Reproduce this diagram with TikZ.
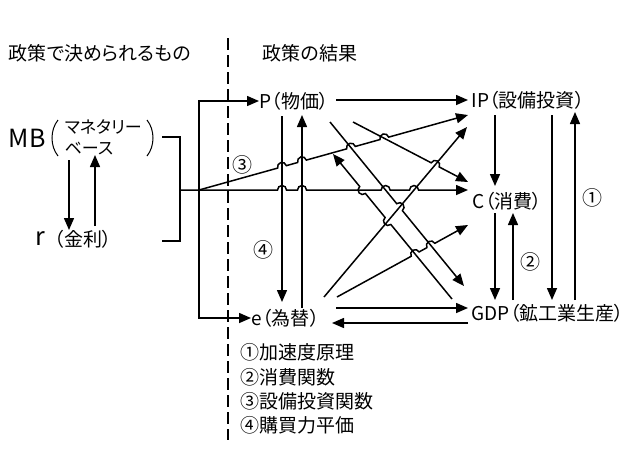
\documentclass[tikz,border=0pt]{standalone}
\usepackage{fontspec}
\setmainfont[RawFeature=+palt]{Noto Sans CJK JP}
\usetikzlibrary{arrows.meta,calc}

\tikzset{
  arr/.style={-{Triangle[length=12pt,width=10pt]}},
  lbl/.style={inner sep=0pt, anchor=west, font=\fontsize{19}{22}\selectfont},
  num/.style={inner sep=0pt, font=\fontsize{20}{20}\selectfont},
}
% 跨线小弧：#1 交点，#2 线段起点
\newcommand{\linehop}[2]{-- ($(#1)!4.5pt!(#2)$) arc[start angle=\n1+180, end angle=\n1, radius=4.5pt]}

\begin{document}
\begin{tikzpicture}[x=1pt, y=-1pt, line width=1.5pt]
    \useasboundingbox (0,0) rectangle (640,467);

    % 分界虚线
    \coordinate (dtop) at (228,38);
    \coordinate (dbot) at (228,440);
    \draw[dash pattern=on 12pt off 5pt] (dtop) -- (dbot);

    % 标题
    \node[lbl] (ttlL) at (8,53) {政策で決められるもの};
    \node[lbl] (ttlR) at (262,53) {政策の結果};

    % 左侧：MB 与 r
    \node[lbl, font=\fontsize{25}{25}\selectfont] (MB) at (8,138) {MB};
    \node[lbl, font=\fontsize{17}{17}\selectfont] (MB1) at (64,127) {マネタリー};
    \node[lbl, font=\fontsize{17}{17}\selectfont] (MB2) at (64,149) {ベース};
    \draw[line width=1pt] (58,120) .. controls (50,130) and (50,146) .. (58,156);
    \draw[line width=1pt] (147,120) .. controls (155,130) and (155,146) .. (147,156);
    \node[lbl, font=\fontsize{25}{25}\selectfont] (R) at (35,239) {r};
    \node[lbl] (Rsub) at (54,239) {（金利）};

    \coordinate (mbA) at (69,160);
    \coordinate (rA) at (69,230);
    \coordinate (rB) at (95,226);
    \coordinate (mbB) at (95,155);
    \draw[arr] (mbA) -- (rA);
    \draw[arr] (rB) -- (mbB);

    % 括号与分支点
    \coordinate (bkT) at (162,137);
    \coordinate (bkB) at (162,241);
    \coordinate (bk) at (180,190);
    \coordinate (jn) at (199,190);
    \draw (bkT) -| (bk) |- (bkB);

    % 政策的结果
    \node[lbl] (P) at (259,101) {P（物価）};
    \node[lbl] (E) at (251,318) {e（為替）};
    \node[lbl] (IP) at (471,100) {IP（設備投資）};
    \node[lbl] (C) at (472,201) {C（消費）};
    \node[lbl] (GDP) at (471,313) {GDP（鉱工業生産）};

    % 分支点到 P 与 e
    \draw[arr] (jn) |- (P.west);
    \draw[arr] (jn) |- (E.west);

    % P 与 e 之间（④）
    \coordinate (v1t) at (282,116);
    \coordinate (v1b) at (282,302);
    \coordinate (v2b) at (302,308);
    \coordinate (v2t) at (302,115);
    \draw[arr] (v1t) -- (v1b);
    \draw[arr] (v2b) -- (v2t);

    % 各斜线的端点
    \coordinate (ip3) at (468,115);  % ③ MB -> IP
    \coordinate (c2) at (468,190);   % MB -> C
    \coordinate (p3) at (330,122);   % P -> GDP
    \coordinate (g3) at (464,286);
    \coordinate (p4) at (353,122);   % P -> C
    \coordinate (c4) at (468,182);
    \coordinate (e5) at (324,297);   % e -> IP
    \coordinate (ip5) at (467,127);
    \coordinate (e6) at (337,297);   % e -> C
    \coordinate (c6) at (468,225);
    \coordinate (g7) at (452,299);   % GDP -> P
    \coordinate (p7) at (333,154);

    % 交点
    \coordinate (xa) at (intersection of jn--ip3 and v1t--v1b);
    \coordinate (xb) at (intersection of jn--ip3 and v2t--v2b);
    \coordinate (xc) at (intersection of jn--ip3 and p3--g3);
    \coordinate (xd) at (intersection of jn--ip3 and p4--c4);
    \coordinate (ya) at (intersection of bk--c2 and v1t--v1b);
    \coordinate (yb) at (intersection of bk--c2 and v2t--v2b);
    \coordinate (yc) at (intersection of bk--c2 and p3--g3);
    \coordinate (yd) at (intersection of bk--c2 and e5--ip5);
    \coordinate (za) at (intersection of p4--c4 and e5--ip5);
    \coordinate (zb) at (intersection of p3--g3 and e5--ip5);
    \coordinate (zc) at (intersection of g7--p7 and e5--ip5);
    \coordinate (zd) at (intersection of g7--p7 and bk--c2);
    \coordinate (ze) at (intersection of e6--c6 and g7--p7);
    \coordinate (zf) at (intersection of e6--c6 and p3--g3);

    % 带跨线弧的斜线
    \draw[arr] let \p1=($(ip3)-(jn)$), \n1={atan2(\y1,\x1)} in
        (jn) \linehop{xa}{jn} \linehop{xb}{jn} \linehop{xc}{jn} \linehop{xd}{jn} -- (ip3);
    \draw[arr] let \p1=($(c2)-(bk)$), \n1={atan2(\y1,\x1)} in
        (bk) \linehop{ya}{bk} \linehop{yb}{bk} \linehop{yc}{bk} \linehop{yd}{bk} -- (c2);
    \draw[arr] let \p1=($(c4)-(p4)$), \n1={atan2(\y1,\x1)} in
        (p4) \linehop{za}{p4} -- (c4);
    \draw[arr] let \p1=($(g3)-(p3)$), \n1={atan2(\y1,\x1)} in
        (p3) \linehop{zb}{p3} -- (g3);
    \draw[arr] let \p1=($(p7)-(g7)$), \n1={atan2(\y1,\x1)} in
        (g7) \linehop{zc}{g7} \linehop{zd}{g7} -- (p7);
    \draw[arr] let \p1=($(c6)-(e6)$), \n1={atan2(\y1,\x1)} in
        (e6) \linehop{ze}{e6} \linehop{zf}{e6} -- (c6);
    \draw[arr] (e5) -- (ip5);

    % 水平箭头
    \coordinate (pi1) at (336,100);
    \coordinate (pi2) at (468,100);
    \coordinate (eg1) at (336,308);
    \coordinate (eg2) at (468,308);
    \coordinate (ge1) at (468,323);
    \coordinate (ge2) at (332,323);
    \draw[arr] (pi1) -- (pi2);
    \draw[arr] (eg1) -- (eg2);
    \draw[arr] (ge1) -- (ge2);

    % 右侧竖向箭头
    \coordinate (ic1) at (495,115);
    \coordinate (ic2) at (495,186);
    \coordinate (cg1) at (495,213);
    \coordinate (cg2) at (495,300);
    \coordinate (gc1) at (513,300);
    \coordinate (gc2) at (513,213);
    \coordinate (ig1) at (552,115);
    \coordinate (ig2) at (552,300);
    \coordinate (gi1) at (575,300);
    \coordinate (gi2) at (575,112);
    \draw[arr] (ic1) -- (ic2);
    \draw[arr] (cg1) -- (cg2);
    \draw[arr] (gc1) -- (gc2);
    \draw[arr] (ig1) -- (ig2);
    \draw[arr] (gi1) -- (gi2);

    % 编号
    \node[num] (n1) at (592,198) {①};
    \node[num] (n2) at (530,262) {②};
    \node[num] (n3) at (242,165) {③};
    \node[num] (n4) at (263,250) {④};

    % 说明
    \node[lbl] (k1) at (240,352) {①加速度原理};
    \node[lbl] (k2) at (240,377) {②消費関数};
    \node[lbl] (k3) at (240,401) {③設備投資関数};
    \node[lbl] (k4) at (240,425) {④購買力平価};
\end{tikzpicture}
\end{document}
